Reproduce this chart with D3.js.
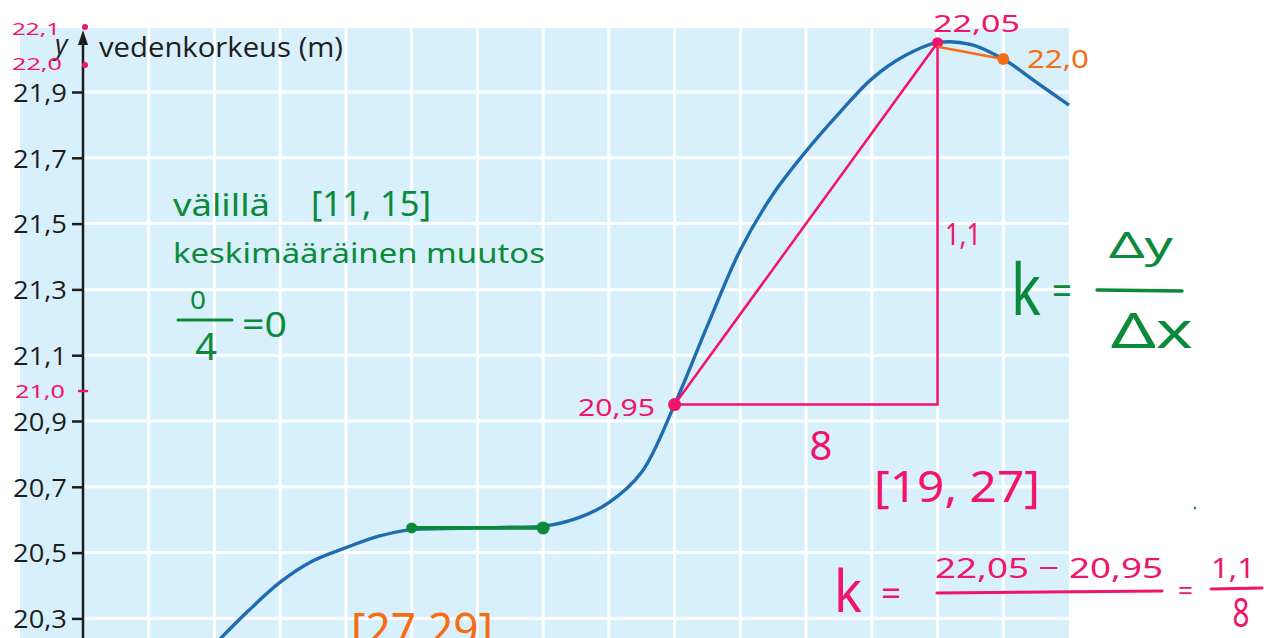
<!DOCTYPE html>
<html>
<head>
<meta charset="utf-8">
<script src="https://cdn.jsdelivr.net/npm/d3@7"></script>
<style>
  html, body { margin: 0; padding: 0; background: #ffffff; }
  svg { display: block; }
</style>
</head>
<body>
<svg id="chart" width="1275" height="638"></svg>
<script>
// Water level curve (hours, metres)
const hours = [5, 6, 7, 8, 9, 10, 11, 12, 13, 14, 15, 16, 17, 18, 19, 20, 21, 22, 23, 24, 25, 26, 27, 28, 29, 30, 31];
const level = [20.22, 20.32, 20.41, 20.475, 20.515, 20.55, 20.57, 20.573, 20.575, 20.577, 20.58, 20.603, 20.652, 20.745, 20.95, 21.19, 21.42, 21.59, 21.72, 21.835, 21.94, 22.01, 22.05, 22.045, 22.0, 21.93, 21.86];

// y-axis ticks and their labels
const yTicks = [20.3, 20.5, 20.7, 20.9, 21.1, 21.3, 21.5, 21.7, 21.9];
const yTickLabels = ["20,3", "20,5", "20,7", "20,9", "21,1", "21,3", "21,5", "21,7", "21,9"];
const xGrid = [3, 5, 7, 9, 11, 13, 15, 17, 19, 21, 23, 25, 27, 29];

// Intervals worked out by hand
const greenInterval = [11, 15];
const greenLevels = [20.575, 20.575];
const pinkInterval = [19, 27];
const pinkLevels = [20.95, 22.05];
const orangeInterval = [27, 29];
const orangeLevels = [22.05, 22.0];

const svg = d3.select("#chart");
const x = d3.scaleLinear().domain([1, 31]).range([83, 1069]);
const y = d3.scaleLinear().domain([20.9, 21.9]).range([421, 92]);

const GREEN = "#0b8a3b", PINK = "#f0146a", ORANGE = "#f46e16", INK = "#1d1d1b";
const HAND = "'Noto Sans', 'DejaVu Sans', sans-serif";
const PRINT = "'Open Sans', 'Noto Sans', sans-serif";

// background panel
svg.append("rect")
  .attr("x", 20).attr("y", y(22.1) + 2)
  .attr("width", x(31) - 20).attr("height", 638 - y(22.1))
  .attr("fill", "#d8f0fb");

// grid
const grid = svg.append("g").attr("stroke", "#ffffff").attr("stroke-width", 3);
grid.selectAll("line.h").data(yTicks).join("line")
  .attr("class", "h")
  .attr("x1", x(1)).attr("x2", x(31))
  .attr("y1", d => y(d)).attr("y2", d => y(d));
grid.selectAll("line.v").data(xGrid).join("line")
  .attr("class", "v")
  .attr("x1", d => x(d)).attr("x2", d => x(d))
  .attr("y1", y(22.1) + 2).attr("y2", 638);

// y axis
const yAxis = d3.axisLeft(y)
  .tickValues(yTicks)
  .tickFormat((d, i) => yTickLabels[i])
  .tickSize(11).tickPadding(5);
const ag = svg.append("g").attr("transform", `translate(${x(1)},0)`).call(yAxis);
ag.select(".domain").remove();
ag.selectAll(".tick line").attr("stroke", INK).attr("stroke-width", 2.5);
ag.selectAll(".tick text")
  .attr("fill", INK)
  .attr("font-family", PRINT)
  .attr("font-size", 26)
  .attr("textLength", 54)
  .attr("lengthAdjust", "spacingAndGlyphs")
  .attr("dy", "0.36em");

svg.append("line")
  .attr("x1", x(1)).attr("x2", x(1))
  .attr("y1", 638).attr("y2", 40)
  .attr("stroke", INK).attr("stroke-width", 2.5);
svg.append("path")
  .attr("d", `M${x(1)},30 L${x(1) - 5},45 L${x(1) + 5},45 Z`)
  .attr("fill", INK);

svg.append("text")
  .attr("x", 55).attr("y", 54)
  .attr("font-family", PRINT)
  .attr("font-style", "italic").attr("font-size", 27)
  .attr("fill", INK).text("y");
svg.append("text")
  .attr("x", 99).attr("y", 57)
  .attr("font-family", PRINT)
  .attr("font-size", 27)
  .attr("textLength", 244).attr("lengthAdjust", "spacingAndGlyphs")
  .attr("fill", INK).text("vedenkorkeus (m)");

// water level curve
const line = d3.line()
  .x((d, i) => x(hours[i]))
  .y(d => y(d))
  .curve(d3.curveCatmullRom.alpha(0.5));
svg.append("path")
  .attr("d", line(level))
  .attr("fill", "none")
  .attr("stroke", "#1f6cb0")
  .attr("stroke-width", 3.4);

// handwritten notes
function note(px, py, str, size, color, len, anchor) {
  const t = svg.append("text")
    .attr("x", px).attr("y", py)
    .attr("font-family", HAND)
    .attr("font-size", size)
    .attr("fill", color)
    .attr("text-anchor", anchor || "start")
    .text(str);
  if (len) t.attr("textLength", len).attr("lengthAdjust", "spacingAndGlyphs");
  return t;
}
function stroke(x1, y1, x2, y2, color, w) {
  svg.append("line")
    .attr("x1", x1).attr("y1", y1).attr("x2", x2).attr("y2", y2)
    .attr("stroke", color).attr("stroke-width", w || 3)
    .attr("stroke-linecap", "round");
}

// green: average change on [11, 15]
svg.append("line")
  .attr("x1", x(greenInterval[0])).attr("y1", y(greenLevels[0]))
  .attr("x2", x(greenInterval[1])).attr("y2", y(greenLevels[1]))
  .attr("stroke", GREEN).attr("stroke-width", 3.8);
svg.selectAll("circle.g").data(greenInterval).join("circle")
  .attr("class", "g")
  .attr("cx", d => x(d)).attr("cy", (d, i) => y(greenLevels[i]))
  .attr("r", (d, i) => i === 0 ? 5.5 : 6.5).attr("fill", GREEN);

note(173, 216, "välillä", 30, GREEN, 97);
note(311, 216, "[11, 15]", 34, GREEN, 120);
note(173, 263, "keskimääräinen muutos", 28, GREEN, 372);
note(198, 309, "0", 26, GREEN, 16, "middle");
stroke(178, 320, 232, 320, GREEN, 3);
note(206, 360, "4", 38, GREEN, null, "middle");
note(242, 337, "=0", 34, GREEN, 45);

note(1011, 315, "k", 72, GREEN, 30);
note(1052, 305, "=", 40, GREEN, 20);
stroke(1097, 290, 1182, 291, GREEN, 3.5);
note(1109, 258, "Δy", 36, GREEN, 64);
note(1111, 348, "Δx", 50, GREEN, 82);
svg.append("circle").attr("cx", 1195).attr("cy", 508).attr("r", 1.2).attr("fill", GREEN);

// pink: average change on [19, 27]
svg.append("path")
  .attr("d", `M${x(pinkInterval[0])},${y(pinkLevels[0])}
              L${x(pinkInterval[1])},${y(pinkLevels[1])}
              L${x(pinkInterval[1])},${y(pinkLevels[0])} Z`)
  .attr("fill", "none").attr("stroke", PINK).attr("stroke-width", 2.5);
svg.selectAll("circle.p").data(pinkInterval).join("circle")
  .attr("class", "p")
  .attr("cx", d => x(d)).attr("cy", (d, i) => y(pinkLevels[i]))
  .attr("r", (d, i) => i === 0 ? 6.5 : 5.5).attr("fill", PINK);

note(12, 35, "22,1", 17, PINK, 48);
svg.append("circle").attr("cx", 85).attr("cy", 27).attr("r", 3).attr("fill", PINK);
note(12, 70, "22,0", 17, PINK, 50);
svg.append("circle").attr("cx", 85).attr("cy", 65).attr("r", 3).attr("fill", PINK);
note(15, 398, "21,0", 18, PINK, 50);
stroke(79, 391, 87, 391, PINK, 2.5);

note(933, 32, "22,05", 24, PINK, 87);
note(578, 416, "20,95", 24, PINK, 77);
note(821, 460, "8", 40, PINK, null, "middle");
note(945, 245, "1,1", 30, PINK, 36);
note(874, 502, "[19, 27]", 44, PINK, 166);

note(834, 612, "k", 58, PINK, 28);
note(881, 606, "=", 34, PINK, 20);
note(935, 578, "22,05 − 20,95", 28, PINK, 228);
stroke(937, 593, 1162, 591, PINK, 3);
note(1178, 600, "=", 26, PINK, 15);
note(1211, 578, "1,1", 28, PINK, 44);
stroke(1211, 589, 1262, 588, PINK, 3);
note(1241, 627, "8", 40, PINK, 17, "middle");

// orange: [27, 29]
svg.append("line")
  .attr("x1", x(orangeInterval[0])).attr("y1", y(orangeLevels[0]) + 4)
  .attr("x2", x(orangeInterval[1])).attr("y2", y(orangeLevels[1]))
  .attr("stroke", ORANGE).attr("stroke-width", 2.5);
svg.append("circle")
  .attr("cx", x(orangeInterval[1])).attr("cy", y(orangeLevels[1]))
  .attr("r", 6).attr("fill", ORANGE);
note(1027, 68, "22,0", 26, ORANGE, 62);
note(351, 646, "[27,29]", 46, ORANGE, 142);
</script>
</body>
</html>
